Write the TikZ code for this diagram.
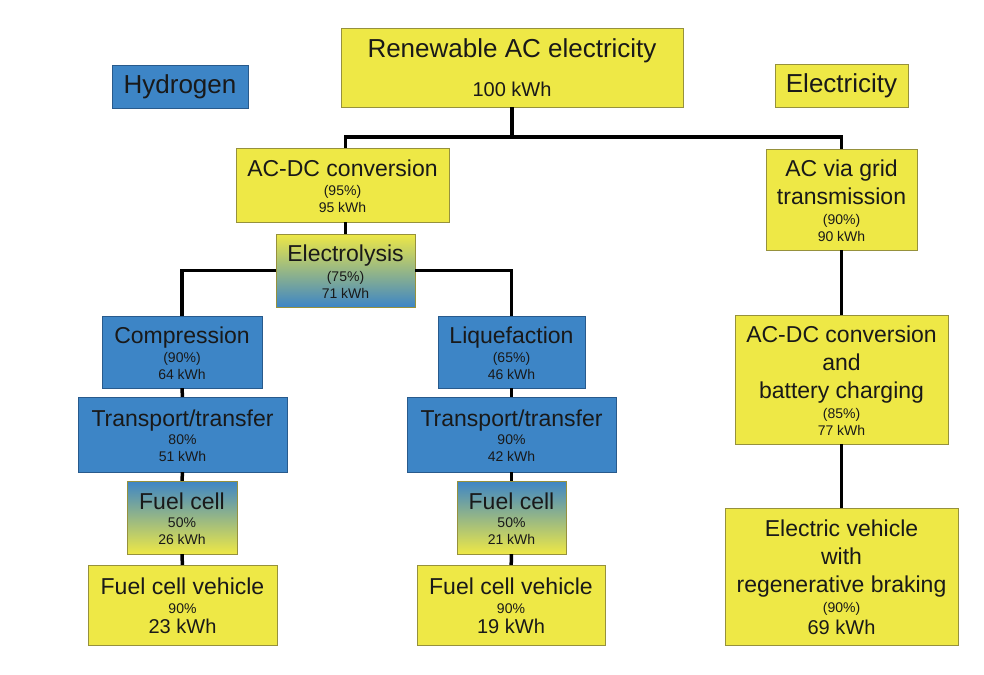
\documentclass[tikz,border=0pt]{standalone}
\usepackage{fontspec}
\setmainfont{Liberation Sans}
\usetikzlibrary{calc}

\definecolor{yel}{RGB}{238,232,70}
\definecolor{blu}{RGB}{61,133,198}
\definecolor{ybord}{RGB}{150,145,60}
\definecolor{bbord}{RGB}{40,90,140}
\definecolor{mid}{RGB}{222,232,218}

\newcommand{\boxhead}[1]{{\fontsize{23}{28}\selectfont\rule[-8pt]{0pt}{27pt}#1}}
\newcommand{\bigval}[1]{{\fontsize{20}{24}\selectfont\rule{0pt}{19pt}#1}}

\begin{document}
\begin{tikzpicture}[x=1pt, y=-1pt,
    ybox/.style = {draw=ybord, fill=yel, inner sep=0pt, align=center, text=black!90, font=\fontsize{14}{17}\selectfont},
    bbox/.style = {ybox, fill=blu, draw=bbord},
    ybgrad/.style = {ybox, top color=yel, middle color=mid, bottom color=blu},
    bygrad/.style = {ybox, top color=blu, middle color=mid, bottom color=yel},
    link/.style = {line width=3.5pt}]
	\useasboundingbox (0,0) rectangle (984,674);

	% top row
	\node[bbox, minimum width=136pt, minimum height=43pt] (hyd) at (180,86.5) {{\fontsize{26}{30}\selectfont Hydrogen}};
	\node[ybox, minimum width=342pt, minimum height=79pt] (ren) at (512,67.5) {{\fontsize{26}{30}\selectfont Renewable AC electricity}\\[13pt]\bigval{100 kWh}};
	\node[ybox, minimum width=133pt, minimum height=43pt] (elec) at (841.5,85.5) {{\fontsize{26}{30}\selectfont Electricity}};

	% hydrogen path
	\node[ybox, minimum width=213pt, minimum height=74pt] (acdc) at (342.5,185) {\boxhead{AC-DC conversion}\\(95\%)\\95 kWh};
	\node[ybgrad, minimum width=139pt, minimum height=73pt] (ely) at (345.5,270.5) {\boxhead{Electrolysis}\\(75\%)\\71 kWh};

	\node[bbox, minimum width=160pt, minimum height=72pt] (comp) at (182,352) {\boxhead{Compression}\\(90\%)\\64 kWh};
	\node[bbox, minimum width=209pt, minimum height=75pt] (trl) at (182.5,434.5) {\boxhead{Transport/transfer}\\80\%\\51 kWh};
	\node[bygrad, minimum width=110pt, minimum height=73pt] (fcl) at (182,517.5) {\boxhead{Fuel cell}\\50\%\\26 kWh};
	\node[ybox, minimum width=189pt, minimum height=80pt] (fcvl) at (182.5,605) {\boxhead{Fuel cell vehicle}\\90\%\\\bigval{23 kWh}};

	\node[bbox, minimum width=147pt, minimum height=72pt] (liq) at (511.5,352) {\boxhead{Liquefaction}\\(65\%)\\46 kWh};
	\node[bbox, minimum width=209pt, minimum height=75pt] (trr) at (511.5,434.5) {\boxhead{Transport/transfer}\\90\%\\42 kWh};
	\node[bygrad, minimum width=109pt, minimum height=73pt] (fcr) at (511.5,517.5) {\boxhead{Fuel cell}\\50\%\\21 kWh};
	\node[ybox, minimum width=188pt, minimum height=80pt] (fcvr) at (511,605) {\boxhead{Fuel cell vehicle}\\90\%\\\bigval{19 kWh}};

	% electricity path
	\node[ybox, minimum width=151pt, minimum height=101pt] (grid) at (841.5,199.5) {\boxhead{AC via grid}\\\boxhead{transmission}\\(90\%)\\90 kWh};
	\node[ybox, minimum width=213pt, minimum height=129pt] (batt) at (841.5,379.5) {\boxhead{AC-DC conversion}\\\boxhead{and}\\\boxhead{battery charging}\\(85\%)\\77 kWh};
	\node[ybox, minimum width=233pt, minimum height=137pt] (ev) at (841.5,576.5) {\boxhead{Electric vehicle}\\\boxhead{with}\\\boxhead{regenerative braking}\\(90\%)\\\bigval{69 kWh}};

	% connectors
	\coordinate (hub) at ($(ren.south)+(0,30)$);
	\draw[link] (ren.south) -- (hub);
	\draw[link] (ely.north |- acdc.north) |- (hub) -| (grid.north);
	\draw[link] (ely.north |- acdc.south) -- (ely.north);
	\draw[link] (ely.west) -| (comp.north);
	\draw[link] (ely.east) -| (liq.north);

	\draw[link] (comp) -- (trl);
	\draw[link] (trl) -- (fcl);
	\draw[link] (fcl) -- (fcvl);

	\draw[link] (liq) -- (trr);
	\draw[link] (trr) -- (fcr);
	\draw[link] (fcr) -- (fcvr);

	\draw[link] (grid) -- (batt);
	\draw[link] (batt) -- (ev);
\end{tikzpicture}
\end{document}
